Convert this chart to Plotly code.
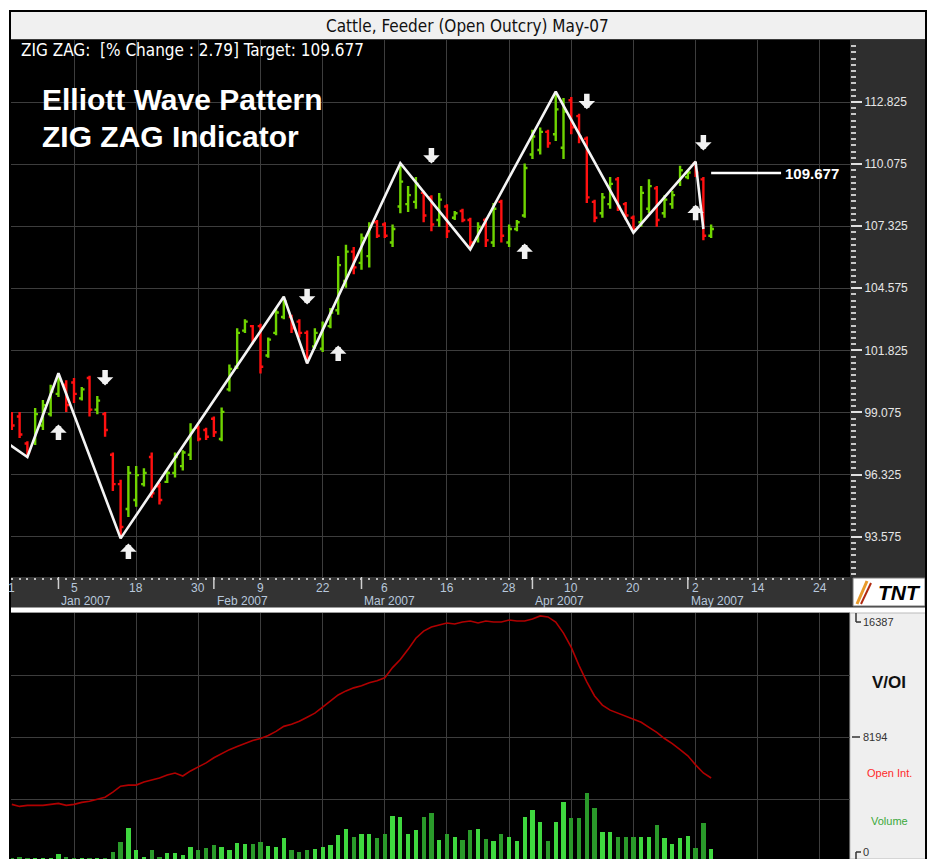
import plotly.graph_objects as go

W, H = 933, 859

# ---------------- data ----------------
# bar index (trading-day index, 0 = Jan 5 2007)
bar_idx = list(range(-8, 83))
opens = [99.0, 98.9, 97.7, 97.8, 98.5, 99.0, 99.9, 100.3, 100.4, 99.7, 100.6, 99.2, 99.0, 97.2, 95.9,
         94.8, 95.2, 95.9, 97.1, 95.8, 96.0, 96.4, 96.7, 97.2, 98.4, 98.3, 98.8, 97.9, 100.1, 101.1,
         102.7, 102.9, 102.9, 101.6, 102.6, 103.3, 103.3, 103.1, 102.6, 102.0, 101.9, 102.9, 103.6, 104.9,
         106.2, 105.7, 106.0, 107.5, 107.4, 106.6, 108.2, 108.3, 108.4, 108.8, 108.6, 107.6, 108.2, 107.7,
         108.0, 107.6, 106.8, 107.6, 106.6, 108.4, 106.6, 107.2, 107.8, 110.5, 110.7, 111.5, 111.4, 110.8,
         112.9, 112.2, 111.2, 108.4, 107.9, 108.3, 109.4, 108.3, 107.7, 107.5, 108.1, 109.0, 107.9, 108.3,
         109.3, 109.5, 110.1, 109.4, 106.9]
highs = [99.1, 99.1, 97.8, 99.27, 99.63, 100.3, 100.81, 100.5, 100.6, 100.2, 100.7, 99.8, 99.1, 97.3, 96.1,
         96.7, 96.7, 96.6, 97.3, 95.95, 96.5, 97.3, 97.4, 98.6, 98.5, 98.4, 98.9, 99.3, 101.2, 102.8,
         103.2, 102.95, 103.0, 102.4, 103.7, 104.2, 103.4, 103.2, 102.7, 102.8, 103.1, 103.7, 106.0, 106.5,
         106.4, 107.0, 107.5, 107.6, 107.5, 107.4, 110.11, 109.1, 109.5, 108.9, 108.7, 108.8, 108.3, 108.0,
         108.1, 107.7, 107.5, 107.7, 108.35, 108.5, 107.4, 107.6, 110.1, 111.6, 111.7, 111.6, 113.28, 113.0,
         113.05, 112.3, 111.3, 108.5, 108.8, 109.5, 109.5, 108.4, 107.8, 109.1, 109.4, 109.1, 108.7, 108.9,
         110.0, 109.8, 110.18, 109.5, 107.4]
lows = [98.3, 97.95, 97.10, 97.63, 98.3, 98.9, 99.76, 99.1, 99.5, 99.6, 98.9, 99.0, 98.0, 95.6, 93.5,
        94.45, 94.9, 95.8, 95.3, 95.0, 95.95, 96.2, 96.5, 96.97, 97.8, 97.86, 97.99, 97.8, 100.0, 101.0,
        102.6, 102.1, 100.8, 101.5, 102.5, 103.2, 102.6, 102.4, 101.25, 101.9, 101.75, 102.8, 103.4, 104.6,
        105.2, 105.4, 105.5, 106.8, 106.8, 106.4, 107.9, 107.95, 108.1, 107.5, 107.1, 107.3, 106.8, 107.6,
        107.5, 106.3, 106.6, 106.4, 106.4, 106.6, 106.4, 107.1, 107.7, 110.3, 110.5, 110.8, 111.1, 110.3,
        111.4, 111.0, 108.35, 107.5, 107.7, 108.1, 108.0, 107.6, 107.04, 107.3, 107.9, 107.3, 107.7, 108.1,
        109.1, 109.4, 109.5, 106.7, 106.8]
closes = [98.5, 98.1, 97.3, 99.0, 99.4, 100.0, 100.5, 99.4, 99.9, 100.1, 99.2, 99.6, 98.3, 95.9, 94.0,
          96.4, 96.3, 96.4, 95.5, 95.2, 96.4, 97.1, 97.3, 98.3, 97.9, 98.0, 98.2, 99.1, 101.0, 102.6,
          103.1, 102.3, 101.1, 102.3, 103.5, 104.0, 102.8, 102.6, 101.5, 102.6, 102.9, 103.5, 105.6, 106.2,
          105.5, 106.8, 107.3, 106.9, 106.9, 107.2, 109.3, 108.7, 109.2, 107.8, 107.4, 108.5, 107.1, 107.9,
          107.6, 106.6, 107.3, 106.7, 108.1, 106.9, 107.2, 107.5, 109.9, 111.3, 111.5, 111.0, 112.5, 112.4,
          111.7, 111.3, 108.6, 107.7, 108.6, 109.2, 108.2, 107.8, 107.2, 108.8, 109.1, 107.6, 108.5, 108.7,
          109.8, 109.7, 109.7, 106.9, 107.2]

volume = [90, 120, 60, 60, 60, 90, 280, 140, 60, 60, 90, 60, 90,
          440, 1040, 1840, 540, 140, 540, 100, 340, 340, 240, 700, 540, 640, 840, 740, 540,
          980, 880, 880, 1040, 780, 740, 1240, 540, 440, 540, 580, 700, 840, 1420, 1780, 1340,
          1500, 1500, 1240, 1500, 2600, 2500, 1500, 1740, 2500, 2740, 1140, 1500, 1300, 1140, 1740,
          1780, 1180, 1100, 1500, 1340, 1100, 2500, 2940, 2240, 1100, 2200, 3440, 2440, 2440, 3980,
          3040, 1640, 1640, 1340, 1340, 1340, 1300, 1340, 2040, 1240, 900, 1240, 1400, 640, 2180, 580]

open_interest = [3393, 3249, 3321, 3321, 3321, 3393, 3465, 3321, 3393, 3537, 3610, 3754, 3898, 4259, 4692,
                 4765, 4765, 4981, 5126, 5270, 5487, 5631, 5415, 5776, 6064, 6353, 6714, 7003, 7292, 7508,
                 7725, 7942, 8085, 8302, 8591, 8952, 9096, 9313, 9602, 9890, 10323, 10757, 11190, 11479,
                 11695, 11840, 12056, 12201, 12417, 13139, 13717, 14439, 15233, 15738, 16027, 16171, 16315,
                 16243, 16387, 16460, 16315, 16460, 16387, 16387, 16532, 16460, 16460, 16604, 16820, 16748,
                 16387, 15593, 14583, 13283, 12128, 11118, 10468, 10107, 9890, 9674, 9457, 9241, 8880, 8519,
                 8085, 7725, 7292, 6858, 6209, 5631, 5270]

# zig-zag pivots (bar index, price)
zz_idx = [-9, -6, -2, 6, 27, 30, 42, 51, 62, 72, 80, 81]
zz_val = [97.82, 97.10, 100.81, 93.50, 104.20, 101.25, 110.11, 106.30, 113.28, 107.04, 110.18, 107.2]

# signal arrows (bar index, tip price, direction)
arrow_idx = [-2, 4, 7, 30, 34, 46, 58, 66, 81, 80]
arrow_val = [98.54, 100.27, 93.27, 103.86, 102.04, 110.10, 106.56, 112.50, 110.68, 108.28]
arrow_dir = ["up", "down", "up", "down", "up", "down", "up", "down", "down", "up"]

target_value = 109.677
target_start, target_end = 82, 91.0

# x-axis labels
day_tick_idx = [-8, 0, 8, 16, 24, 32, 40, 48, 56, 64, 72, 80, 88, 96]
day_tick_txt = ["1", "5", "18", "30", "9", "22", "6", "16", "28", "10", "20", "2", "14", "24"]
month_start_idx = [-2, 18, 37, 59, 79]
month_txt = ["Jan 2007", "Feb 2007", "Mar 2007", "Apr 2007", "May 2007"]

price_tick0, price_dtick = 93.575, 2.75
oi_labels = [16387, 8194, 0]

# ---------------- styling ----------------
GREEN = "#6fd400"
RED = "#ff1010"
GRID = "#3d3d3d"
NARROW = "Liberation Sans Narrow, DejaVu Sans Condensed, Arial Narrow, sans-serif"
ARIAL = "Liberation Sans, Arial, sans-serif"
DATEC = "#b8c8dc"


def fx(x):
    return x / W


def fy(y):
    return 1 - y / H


X0, X1 = 11, 850          # plot left/right px
MAIN_T, MAIN_B = 40, 577   # main panel top/bottom px
LOW_T = 613

px_per_bar = 7.77
x_at0 = 74.0
xr = [(X0 - x_at0) / px_per_bar, (X1 - x_at0) / px_per_bar]

ppu = 22.58
yr = [112.825 - (MAIN_B - 102) / ppu, 112.825 + (102 - MAIN_T) / ppu]

oi_per_px = 71.25
y2r = [-(H - 852) * oi_per_px, (852 - LOW_T) * oi_per_px]
y2grid = [8194 - 62 * oi_per_px, 8194, 8194 + 62 * oi_per_px]
vol_per_px = 60
y3r = [0, (H - LOW_T) * vol_per_px]

fig = go.Figure()

fig.add_trace(go.Ohlc(
    x=bar_idx, open=opens, high=highs, low=lows, close=closes,
    increasing=dict(line=dict(color=GREEN, width=2.4)),
    decreasing=dict(line=dict(color=RED, width=2.4)),
    tickwidth=0.36, xaxis="x", yaxis="y", hoverinfo="skip", showlegend=False))

fig.add_trace(go.Scatter(x=zz_idx, y=zz_val, mode="lines",
                         line=dict(color="#f4f4f4", width=2.6),
                         xaxis="x", yaxis="y", hoverinfo="skip", showlegend=False))

fig.add_trace(go.Scatter(x=[target_start, target_end], y=[target_value, target_value], mode="lines",
                         line=dict(color="#ffffff", width=2.5),
                         xaxis="x", yaxis="y", hoverinfo="skip", showlegend=False))

vol_colors = ["#3fd83f" if c >= o else "#2a9a2a" for o, c in zip(opens, closes)]
fig.add_trace(go.Bar(x=bar_idx, y=volume, marker=dict(color=vol_colors, line=dict(width=0)),
                     width=0.55, xaxis="x2", yaxis="y3", hoverinfo="skip", showlegend=False))

fig.add_trace(go.Scatter(x=bar_idx, y=open_interest, mode="lines",
                         line=dict(color="#b00000", width=1.6),
                         xaxis="x2", yaxis="y2", hoverinfo="skip", showlegend=False))

shapes = [
    # title bar
    dict(type="rect", xref="paper", yref="paper", x0=fx(10), x1=fx(926), y0=fy(40), y1=fy(11),
         fillcolor="#f0f0f0", line=dict(color="#000", width=1.5), layer="below"),
    # right dark axis panel + date band
    dict(type="rect", xref="paper", yref="paper", x0=fx(X1), x1=fx(926), y0=fy(607), y1=fy(MAIN_T),
         fillcolor="#2e2e2e", line=dict(width=0), layer="below"),
    dict(type="rect", xref="paper", yref="paper", x0=fx(X0), x1=fx(X1), y0=fy(607), y1=fy(MAIN_B),
         fillcolor="#333333", line=dict(width=0), layer="below"),
    # lower right light panel
    dict(type="rect", xref="paper", yref="paper", x0=fx(X1), x1=fx(926), y0=fy(H), y1=fy(LOW_T),
         fillcolor="#efefef", line=dict(color="#bbbbbb", width=1), layer="below"),
    # separator edges
    dict(type="line", xref="paper", yref="paper", x0=fx(X0), x1=fx(926), y0=fy(607.5), y1=fy(607.5),
         line=dict(color="#9a9a9a", width=1)),
    dict(type="line", xref="paper", yref="paper", x0=fx(X0), x1=fx(X1), y0=fy(612.5), y1=fy(612.5),
         line=dict(color="#9a9a9a", width=1)),
    # TNT logo box with small flash strokes
    dict(type="rect", xref="paper", yref="paper", x0=fx(853), x1=fx(925), y0=fy(606), y1=fy(578),
         fillcolor="#ffffff", line=dict(color="#777", width=1)),
    dict(type="line", xref="paper", yref="paper", x0=fx(857), x1=fx(867), y0=fy(604), y1=fy(581),
         line=dict(color="#e89a2a", width=3)),
    dict(type="line", xref="paper", yref="paper", x0=fx(861), x1=fx(871), y0=fy(604), y1=fy(583),
         line=dict(color="#b02a10", width=2)),
    # outer frame
    dict(type="rect", xref="paper", yref="paper", x0=fx(10), x1=fx(926), y0=fy(H + 2), y1=fy(11),
         line=dict(color="#000", width=2)),
]

# month boundary ticks on the date band
for m in month_start_idx:
    shapes.append(dict(type="line", xref="x", yref="paper", x0=m, x1=m, y0=fy(589), y1=fy(MAIN_B),
                       line=dict(color="#cfcfcf", width=1.5)))

# V/OI axis brackets
shapes += [
    dict(type="line", xref="paper", yref="y2", x0=fx(856), x1=fx(856), y0=oi_labels[0], y1=y2r[1],
         line=dict(color="#333", width=1.5)),
    dict(type="line", xref="paper", yref="y2", x0=fx(856), x1=fx(861), y0=oi_labels[0], y1=oi_labels[0],
         line=dict(color="#333", width=1.5)),
    dict(type="line", xref="paper", yref="y2", x0=fx(852), x1=fx(860), y0=oi_labels[1], y1=oi_labels[1],
         line=dict(color="#333", width=1.5)),
    dict(type="line", xref="paper", yref="y2", x0=fx(856), x1=fx(856), y0=oi_labels[2], y1=y2r[0],
         line=dict(color="#333", width=1.5)),
    dict(type="line", xref="paper", yref="y2", x0=fx(856), x1=fx(861), y0=oi_labels[2], y1=oi_labels[2],
         line=dict(color="#333", width=1.5)),
]


def txt(text, x, y, size, color, family=ARIAL, xanchor="left", xref="paper", yref="paper", **kw):
    return dict(text=text, x=x, y=y, xref=xref, yref=yref, xanchor=xanchor, yanchor="middle",
                showarrow=False, font=dict(family=family, size=size, color=color), **kw)


ann = [
    txt("Cattle, Feeder (Open Outcry) May-07", fx(467), fy(26), 17, "#111", family=NARROW, xanchor="center"),
    txt("ZIG ZAG:  [% Change : 2.79] Target: 109.677", fx(19), fy(50), 17, "#ffffff", family=NARROW),
    txt("<b>Elliott Wave Pattern</b>", fx(40), fy(100), 30, "#ffffff"),
    txt("<b>ZIG ZAG Indicator</b>", fx(40), fy(137), 30, "#ffffff"),
    txt("<b>109.677</b>", target_end, target_value, 15, "#ffffff", xref="x", yref="y", xshift=2),
    txt("<b><i>TNT</i></b>", fx(899), fy(592), 21, "#000", xanchor="center"),
    txt("<b>V/OI</b>", fx(889), fy(682), 17, "#111", xanchor="center"),
    txt("Open Int.", fx(889), fy(773), 11, "#ff2a2a", xanchor="center"),
    txt("Volume", fx(889), fy(821), 11, "#3aa83a", xanchor="center"),
]
for v in oi_labels:
    ann.append(txt(str(v), fx(861), v, 11, "#333333", yref="y2"))
for m, t in zip(month_start_idx, month_txt):
    ann.append(txt(t, m, fy(601), 12, DATEC, xref="x", xshift=1))
for d, t in zip(day_tick_idx, day_tick_txt):
    ann.append(txt(t, d, fy(588), 12, DATEC, xref="x", xanchor="center"))
for ax_i, av, ad in zip(arrow_idx, arrow_val, arrow_dir):
    ann.append(dict(text="", x=ax_i, y=av, xref="x", yref="y", showarrow=True, arrowhead=1,
                    arrowsize=0.5, arrowwidth=5.5, arrowcolor="#f2f2f2", ax=0,
                    ay=(-17 if ad == "down" else 17), standoff=0, startstandoff=0))

fig.update_layout(
    width=W, height=H, margin=dict(l=0, r=0, t=0, b=0),
    paper_bgcolor="#ffffff", plot_bgcolor="#000000",
    showlegend=False, bargap=0,
    shapes=shapes, annotations=ann,
    xaxis=dict(domain=[fx(X0), fx(X1)], range=xr, anchor="y",
               tickmode="array", tickvals=day_tick_idx, showticklabels=False,
               showgrid=True, gridcolor=GRID, gridwidth=1, zeroline=False, showline=False,
               ticks="outside", ticklen=2, tickcolor="#c8c8c8", tickwidth=2,
               minor=dict(dtick=1, tick0=0, ticks="outside", ticklen=2, tickwidth=2,
                          tickcolor="#bdbdbd", showgrid=False),
               rangeslider=dict(visible=False), fixedrange=True),
    yaxis=dict(domain=[fy(MAIN_B), fy(MAIN_T)], range=yr, anchor="x", side="right",
               tick0=price_tick0, dtick=price_dtick, tickformat=".3f",
               showgrid=True, gridcolor=GRID, gridwidth=1, zeroline=False, showline=False,
               ticks="outside", ticklen=11, tickwidth=2, tickcolor="#e0e0e0",
               tickfont=dict(family=ARIAL, size=12, color="#e6e6e6"),
               minor=dict(dtick=price_dtick / 10, tick0=price_tick0, ticks="outside", ticklen=5,
                          tickwidth=2, tickcolor="#c8c8c8", showgrid=False),
               fixedrange=True),
    xaxis2=dict(domain=[fx(X0), fx(X1)], range=xr, anchor="y2", matches="x",
                tickmode="array", tickvals=day_tick_idx, showticklabels=False, ticks="",
                showgrid=True, gridcolor=GRID, gridwidth=1, zeroline=False, showline=False,
                rangeslider=dict(visible=False)),
    yaxis2=dict(domain=[0, fy(LOW_T)], range=y2r, anchor="x2", side="right",
                tickmode="array", tickvals=y2grid, showticklabels=False, ticks="",
                showgrid=True, gridcolor=GRID, gridwidth=1, zeroline=False, showline=False),
    yaxis3=dict(domain=[0, fy(LOW_T)], range=y3r, overlaying="y2", anchor="x2", visible=False),
)

fig.write_html("out.html", config={"displayModeBar": False, "staticPlot": True},
               post_script="document.body.style.margin='0';document.body.style.overflow='hidden';")
